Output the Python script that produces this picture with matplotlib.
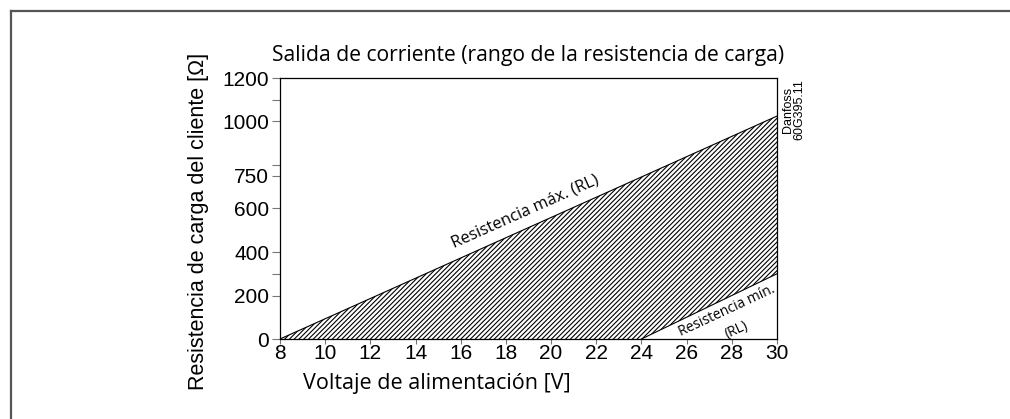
import numpy as np
import matplotlib
matplotlib.use("Agg")
import matplotlib.pyplot as plt
from matplotlib.lines import Line2D

# data
voltage = [8, 24, 30]
r_max = [0, 745, 1025]
r_min = [0, 0, 300]
min_start = 1          # min line starts at 24 V
x_ticks = list(range(8, 31, 2))
y_labels = [0, 200, 400, 600, 750, 1000, 1200]
y_minor = [300, 800, 1100]

arial = "Liberation Sans"
myriad = "Open Sans"

fig = plt.figure(figsize=(10.10, 4.19), dpi=100)
ax = fig.add_axes([280/1010, 1-339/419, 497/1010, 261/419])

plt.rcParams['hatch.linewidth'] = 0.8
ax.fill_between(voltage, r_min, r_max, facecolor='white', edgecolor='black',
                hatch='///////', linewidth=0)
ax.plot(voltage, r_max, color='black', lw=0.8)
ax.plot(voltage[min_start:], r_min[min_start:], color='black', lw=0.8)

ax.set_xlim(8, 30)
ax.set_ylim(0, 1200)
ax.set_xticks(x_ticks)
ax.set_xticklabels([str(t) for t in x_ticks], family=arial, fontsize=15)
ax.set_yticks(y_labels)
ax.set_yticklabels([str(t) for t in y_labels], family=arial, fontsize=15)
ax.set_yticks(y_minor, minor=True)
ax.tick_params(axis='x', which='both', direction='out', length=3.6,
               width=0.8, color='#777777', pad=0)
ax.tick_params(axis='y', which='both', direction='out', length=5.5,
               width=0.8, color='#777777', pad=2.2)
for s in ax.spines.values():
    s.set_linewidth(0.9)

ax.set_title("Salida de corriente (rango de la resistencia de carga)",
             family=myriad, fontsize=15.2, pad=12)
ax.set_ylabel("Resistencia de carga del cliente [Ω]", family=arial,
              fontsize=15.5, labelpad=9.6, y=0.45)
ax.set_xlabel("Voltaje de alimentación [V]", family=myriad, fontsize=15.5,
              labelpad=7.5, x=0.315)

ax.text(18.85, 584, "Resistencia máx. (RL)", family=myriad, fontsize=11.8,
        rotation=24, ha='center', va='center')
ax.text(27.8, 129, "Resistencia mín.", family=myriad, fontsize=10,
        rotation=25, ha='center', va='center')
ax.text(28.2, 41, "(RL)", family=myriad, fontsize=10,
        rotation=25, ha='center', va='center')

fig.text(794/1010, 1-110/419, "Danfoss\n60G395.11", family=arial, fontsize=9,
         rotation=90, ha='center', va='center', linespacing=0.95)

# outer frame (top and left only)
fig.add_artist(Line2D([11/1010, 1], [1-11/419, 1-11/419], color='#555555', lw=1.6))
fig.add_artist(Line2D([11/1010, 11/1010], [0, 1-11/419], color='#555555', lw=1.6))

fig.savefig("out.png", dpi=100)
